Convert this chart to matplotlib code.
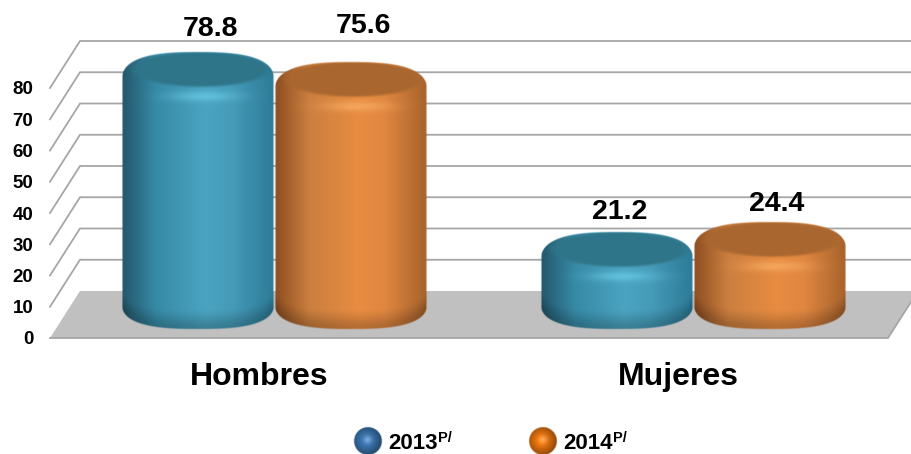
import numpy as np
import matplotlib
matplotlib.use('Agg')
import matplotlib.pyplot as plt
from matplotlib.colors import to_rgb

plt.rcParams['font.family'] = ['Liberation Sans', 'DejaVu Sans']
plt.rcParams['font.weight'] = 'bold'

categories = ['Hombres', 'Mujeres']
series_names = ['2013', '2014']
values_2013 = [78.8, 21.2]
values_2014 = [75.6, 24.4]
y_ticks = [0, 10, 20, 30, 40, 50, 60, 70, 80]

W, H = 911, 454
# plot box in pixels, front plane of the fake 3D chart
LEFT, RIGHT, BASE, TOP = 50, 888, 338, 88
PX_X = (RIGHT - LEFT) / 2.0   # pixels per category
PX_Y = (BASE - TOP) / 80.0    # pixels per value unit
DEPTH_X, DEPTH_Y = 30, 47

BLUE = {'stops': ['#23566a', '#378aa6', '#4aa4c1', '#459bb8', '#2c7a96'],
        'cap': '#2f7589', 'glow': '#66c6e2', 'sphere': '#3a74ae'}
ORANGE = {'stops': ['#8c4d20', '#cb7f3f', '#e88c41', '#e08640', '#a6622b'],
          'cap': '#a9672f', 'glow': '#f7ab62', 'sphere': '#e8750f'}


def rgb(c):
    return np.array(to_rgb(c))


def smooth(a):
    a = np.clip(a, 0, 1)
    return a * a * (3 - 2 * a)


def cylinder(ax, xc, value, style):
    """Shaded cylinder as an image, xc in category units, value on the y scale."""
    # everything below is measured in pixels from the front plane baseline
    top_edge = -40 - value * PX_Y          # negative is up
    ry_top = 30
    yc_top = top_edge + ry_top
    yc_bot, ry_bot = -35, 27

    ss = 2
    nx, ny = int(160 * ss), int((yc_bot + ry_bot - top_edge + 8) * ss)
    u = np.linspace(-80 / 76.5, 80 / 76.5, nx)
    yy = np.linspace(top_edge - 4, yc_bot + ry_bot + 4, ny)
    U, Y = np.meshgrid(u, yy)

    # horizontal shading
    stops = np.array([rgb(c) for c in style['stops']])
    pos = [-1, -0.55, 0.1, 0.45, 1]
    img = np.dstack([np.interp(U, pos, stops[:, k]) for k in range(3)])

    # a bit squarer than an ellipse, the shoulders are bevelled in the original
    half = np.clip(1 - np.abs(U) ** 2.7, 0, 1) ** (1 / 2.7)
    low_edge = yc_bot + ry_bot * half
    up_edge = yc_top - ry_top * half

    # darker rounded bottom edge
    dark = smooth((Y - (low_edge - 22)) / 22)[..., None]
    img = img * (1 - 0.22 * dark)

    # flat top of the cylinder
    cap_x, cap_y = 3 / 76.5, yc_top - 12
    d = np.sqrt(((U - cap_x) / 0.9) ** 2 + ((Y - cap_y) / 17.5) ** 2)
    cap = smooth((1.1 - d) / 0.22)[..., None]
    img = img * (1 - cap) + rgb(style['cap']) * cap

    # highlight on the front of the rim
    glow = np.exp(-((U - 0.08) / 0.42) ** 2 - ((Y - (yc_top + 15)) / 5.0) ** 2)[..., None]
    img = img * (1 - 0.8 * glow) + rgb(style['glow']) * 0.8 * glow

    # silhouette with soft edge
    alpha = smooth((1 - np.abs(U)) * 76.5 / 1.5) * smooth((low_edge - Y) / 1.5) * smooth((Y - up_edge) / 1.5)
    out = np.dstack([np.clip(img, 0, 1), alpha])
    ax.imshow(out, origin='upper', aspect='auto', zorder=3, clip_on=False, interpolation='bilinear',
              extent=[xc - 80 / PX_X, xc + 80 / PX_X, -yy[-1] / PX_Y, -yy[0] / PX_Y])


def sphere(fig, px, py, style):
    """Legend ball, px/py = pixel centre from the top left."""
    r = 15
    a = fig.add_axes([(px - r) / W, 1 - (py + r) / H, 2 * r / W, 2 * r / H])
    a.axis('off')
    g = np.linspace(-1, 1, 60)
    X, Y = np.meshgrid(g, g)
    dist = np.hypot(X, Y)
    light = np.clip(1 - np.hypot(X + 0.1, Y + 0.05) / 1.25, 0, 1)
    base = rgb(style['sphere'])
    img = base * (0.5 + 0.7 * light[..., None])
    img = img + (1 - img) * (0.3 * np.exp(-(X ** 2 + (Y + 0.1) ** 2) / 0.06))[..., None]
    alpha = smooth((0.97 - dist) / 0.06)
    a.imshow(np.dstack([np.clip(img, 0, 1), alpha]), interpolation='bilinear')


fig = plt.figure(figsize=(W / 100, H / 100), dpi=100, facecolor='white')
ax = fig.add_axes([LEFT / W, 1 - BASE / H, (RIGHT - LEFT) / W, (BASE - TOP) / H])
ax.patch.set_visible(False)
for s in ax.spines.values():
    s.set_visible(False)

dx = DEPTH_X / PX_X
dy = DEPTH_Y / PX_Y
x0, x1 = -0.5, 1.5

# floor
ax.fill([x0, x1, x1 + dx, x0 + dx], [0, 0, dy, dy], color='#c0c0c0', lw=0, zorder=1, clip_on=False)
ax.plot([x0, x1, x1 + dx], [0, 0, dy], color='#a6a6a6', lw=1.3, zorder=1.5, clip_on=False)

# walls
for v in y_ticks[1:]:
    ax.plot([x0, x0 + dx, x1 + dx], [v, v + dy, v + dy], color='#a6a6a6', lw=1.3, zorder=1,
            clip_on=False, solid_joinstyle='miter')

# cylinders, back of the pair first
bar_w = 153 / PX_X
shift = 15 / PX_X
label_off = [[(13, 23), (12, 36), ], [(3, 20), (7, 18)]]
for i in range(len(categories)):
    xa = i + shift - bar_w / 2
    xb = i + shift + bar_w / 2
    cylinder(ax, xa, values_2013[i], BLUE)
    cylinder(ax, xb, values_2014[i], ORANGE)
    for xc, v, off in zip((xa, xb), (values_2013[i], values_2014[i]), label_off[i]):
        ax.annotate(f'{v:.1f}', xy=(xc, v), xycoords='data',
                    xytext=(off[0] * 0.72, (40 + off[1]) * 0.72), textcoords='offset points',
                    ha='center', va='center', fontsize=20.5, fontweight='bold', color='black',
                    zorder=5, annotation_clip=False)

ax.set_xlim(x0, x1)
ax.set_ylim(0, 80)
ax.set_xticks(range(len(categories)))
ax.set_xticklabels(categories, fontsize=23, fontweight='bold')
ax.set_yticks(y_ticks)
ax.set_yticklabels([str(t) for t in y_ticks], fontsize=13.5, fontweight='bold')
ax.tick_params(axis='x', length=0, pad=17)
ax.tick_params(axis='y', length=0, pad=12)

# legend
legend_x = [368, 543]
for name, lx, st in zip(series_names, legend_x, (BLUE, ORANGE)):
    sphere(fig, lx, 441, st)
    fig.text((lx + 20) / W, 1 - 449 / H, name, fontsize=16, fontweight='bold', ha='left', va='baseline')
    fig.text((lx + 70) / W, 1 - 442 / H, 'P/', fontsize=10.5, fontweight='bold', ha='left', va='baseline')

fig.savefig('out.png', dpi=100)
